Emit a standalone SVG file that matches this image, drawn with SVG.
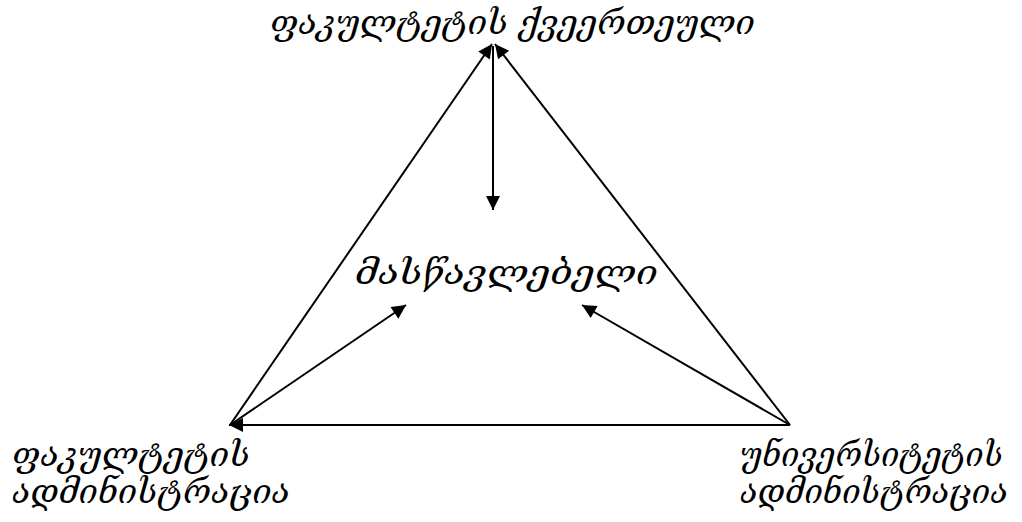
<svg xmlns="http://www.w3.org/2000/svg" width="1022" height="522" viewBox="0 0 1022 522">
<style>
text{font-family:"DejaVu Serif","DejaVu Sans",serif;font-style:italic;font-size:33px;fill:#000}
.ln{stroke:#000;stroke-width:2;fill:none}
</style>
<defs>
<marker id="ah" viewBox="0 0 10 10" refX="10" refY="5" markerWidth="16" markerHeight="14" markerUnits="userSpaceOnUse" orient="auto">
<path d="M0,0 L10,5 L0,10 z" fill="#000"/>
</marker>
</defs>
<rect width="1022" height="522" fill="#fff"/>
<g id="connectors">
<line class="ln" x1="230" y1="425" x2="492" y2="44" marker-end="url(#ah)"/>
<line class="ln" x1="790" y1="425" x2="495" y2="44" marker-end="url(#ah)"/>
<line class="ln" x1="493" y1="46" x2="493" y2="210" marker-end="url(#ah)"/>
<line class="ln" x1="790" y1="425" x2="229" y2="425" marker-end="url(#ah)"/>
<line class="ln" x1="230" y1="425" x2="406" y2="305" marker-end="url(#ah)"/>
<line class="ln" x1="790" y1="425" x2="582" y2="305" marker-end="url(#ah)"/>
</g>
<g id="node-top"><text x="270" y="34" textLength="485" lengthAdjust="spacingAndGlyphs">ფაკულტეტის ქვეერთეული</text></g>
<g id="node-center"><text x="355" y="284" textLength="303" lengthAdjust="spacingAndGlyphs">მასწავლებელი</text></g>
<g id="node-left"><text x="12" y="466" textLength="238" lengthAdjust="spacingAndGlyphs">ფაკულტეტის</text><text x="12" y="503" textLength="278" lengthAdjust="spacingAndGlyphs">ადმინისტრაცია</text></g>
<g id="node-right"><text x="740" y="466" textLength="263" lengthAdjust="spacingAndGlyphs">უნივერსიტეტის</text><text x="740" y="503" textLength="268" lengthAdjust="spacingAndGlyphs">ადმინისტრაცია</text></g>
</svg>
